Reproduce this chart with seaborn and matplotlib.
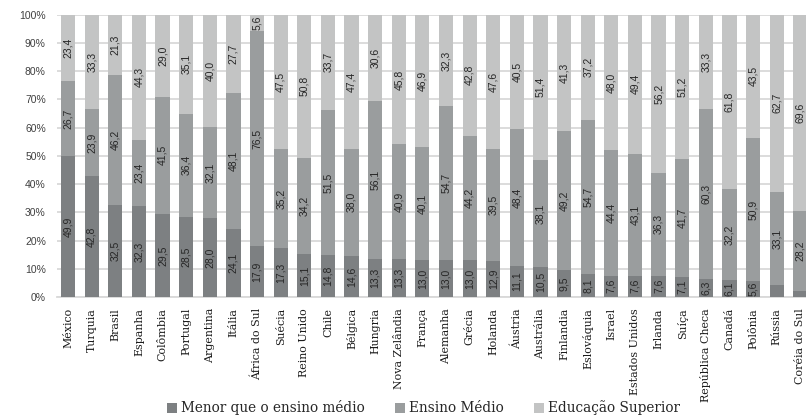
import numpy as np
import pandas as pd
import matplotlib
matplotlib.use("Agg")
import matplotlib.pyplot as plt
from matplotlib.patches import Patch
import seaborn as sns

countries = ["México", "Turquia", "Brasil", "Espanha", "Colômbia", "Portugal",
             "Argentina", "Itália", "África do Sul", "Suécia", "Reino Unido",
             "Chile", "Bélgica", "Hungria", "Nova Zelândia", "França",
             "Alemanha", "Grécia", "Holanda", "Áustria", "Austrália",
             "Finlandia", "Eslováquia", "Israel", "Estados Unidos", "Irlanda",
             "Suíça", "República Checa", "Canadá", "Polônia", "Rússia",
             "Coréia do Sul"]

menor_que_medio = [49.9, 42.8, 32.5, 32.3, 29.5, 28.5, 28.0, 24.1, 17.9, 17.3,
                   15.1, 14.8, 14.6, 13.3, 13.3, 13.0, 13.0, 13.0, 12.9, 11.1,
                   10.5, 9.5, 8.1, 7.6, 7.6, 7.6, 7.1, 6.3, 6.1, 5.6, 4.2, 2.2]

ensino_medio = [26.7, 23.9, 46.2, 23.4, 41.5, 36.4, 32.1, 48.1, 76.5, 35.2,
                34.2, 51.5, 38.0, 56.1, 40.9, 40.1, 54.7, 44.2, 39.5, 48.4,
                38.1, 49.2, 54.7, 44.4, 43.1, 36.3, 41.7, 60.3, 32.2, 50.9,
                33.1, 28.2]

superior = [23.4, 33.3, 21.3, 44.3, 29.0, 35.1, 40.0, 27.7, 5.6, 47.5,
            50.8, 33.7, 47.4, 30.6, 45.8, 46.9, 32.3, 42.8, 47.6, 40.5,
            51.4, 41.3, 37.2, 48.0, 49.4, 56.2, 51.2, 33.3, 61.8, 43.5,
            62.7, 69.6]

series_names = ["Menor que o ensino médio", "Ensino Médio", "Educação Superior"]
colors = ["#7d8082", "#9a9d9e", "#c3c4c4"]

df = pd.DataFrame({
    "pais": countries,
    "menor": menor_que_medio,
    "medio": ensino_medio,
    "superior": superior,
})
df["c1"] = df["menor"]
df["c2"] = df["menor"] + df["medio"]
df["c3"] = df["c2"] + df["superior"]

sns.set_style("white")
fig = plt.figure(figsize=(8.06, 4.18), dpi=100)
ax = fig.add_axes([0.0707, 0.2895, 0.936, 0.675])

# stacked bars: draw cumulative totals from the top layer down
for col, color in zip(["c3", "c2", "c1"], colors[::-1]):
    sns.barplot(data=df, x="pais", y=col, color=color, width=0.6,
                saturation=1, linewidth=0, errorbar=None, ax=ax, zorder=3)

# value labels centred in each segment
for i, row in df.iterrows():
    bottoms = [0, row["c1"], row["c2"]]
    vals = [row["menor"], row["medio"], row["superior"]]
    for b, v in zip(bottoms, vals):
        if v < 5:
            continue
        ax.text(i, b + v / 2, f"{v:.1f}".replace(".", ","), rotation=90,
                ha="center", va="center", fontsize=7.5, color="#262626",
                family="Liberation Sans", zorder=4)

ax.set_ylim(0, 100)
ax.set_xlim(-0.47, len(countries) - 0.53)
ax.set_yticks(np.arange(0, 101, 10))
ax.set_yticklabels([f"{t}%" for t in range(0, 101, 10)],
                   family="Liberation Sans", fontsize=7.5, color="#404040")
ax.set_xticks(range(len(countries)))
ax.set_xticklabels(countries, rotation=90, family="DejaVu Serif",
                   fontsize=7.9, color="#1a1a1a", va="top", ha="center")
ax.tick_params(axis="both", length=0)
ax.tick_params(axis="y", pad=8)
ax.tick_params(axis="x", pad=8)
ax.set_xlabel("")
ax.set_ylabel("")

ax.yaxis.grid(True, color="#d9d9d9", linewidth=1.3, zorder=0)
ax.set_axisbelow(True)
for side in ["top", "right", "left"]:
    ax.spines[side].set_visible(False)
ax.spines["bottom"].set_color("#d9d9d9")
ax.spines["bottom"].set_linewidth(1.3)

handles = [Patch(facecolor=c, edgecolor="none") for c in colors]
fig.legend(handles, series_names, loc="center", bbox_to_anchor=(0.5255, 0.024),
           ncol=3, frameon=False, prop={"family": "DejaVu Serif", "size": 9.8},
           handlelength=0.75, handleheight=0.75, handletextpad=0.3,
           columnspacing=2.2)

fig.savefig("out.png", dpi=100)
